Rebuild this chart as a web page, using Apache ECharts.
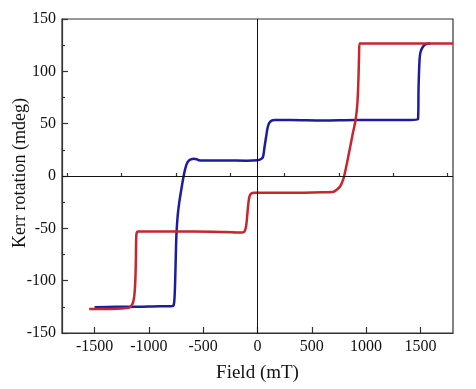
<!DOCTYPE html>
<html>
<head>
<meta charset="utf-8">
<script src="https://cdn.jsdelivr.net/npm/echarts@6/dist/echarts.min.js"></script>
<style>html,body{margin:0;padding:0;background:#fff;}#c{width:476px;height:389px;}</style>
</head>
<body>
<div id="c"></div>
<script>
// Blue sweep
var blueX = [-1500, -1300, -1100, -900, -800, -775, -765, -758, -752, -746, -735, -720, -700, -680, -665, -650, -630, -610, -590, -560, -540, -500, -300, -100, 0, 30, 50, 65, 80, 95, 110, 130, 160, 300, 600, 900, 1200, 1400, 1477, 1483, 1492, 1500, 1520, 1550, 1590];
var blueY = [-125.5, -125, -125, -124.5, -124.5, -124, -118, -100, -75, -55, -38, -25, -12, 0, 7, 12, 15, 16, 16.5, 16, 15, 14.8, 14.8, 14.6, 15, 16, 18, 28, 38, 47, 51, 53, 53.5, 53.5, 53, 53.5, 53.5, 53.5, 54, 85, 111, 118, 123, 126, 126.7];
// Red sweep
var redX = [-1550, -1400, -1250, -1190, -1170, -1150, -1135, -1125, -1120, -1117, -1112, -1100, -900, -600, -300, -150, -120, -105, -95, -85, -75, -60, -30, 0, 300, 600, 700, 730, 760, 790, 817, 850, 878, 903, 920, 930, 935, 940, 1000, 1400, 1800];
var redY = [-127, -127, -126.5, -126, -125, -122, -115, -100, -80, -60, -54, -53, -53, -53, -53.5, -54, -53, -48, -38, -27, -20, -17, -16, -16, -16, -15.5, -15, -13, -10, -3, 9, 26, 41, 53.5, 70, 95, 115, 126.5, 126.5, 126.5, 126.5];
// Axis ticks
var xMajor = [-1500, -1000, -500, 0, 500, 1000, 1500];
var xMinor = [-1750, -1250, -750, -250, 250, 750, 1250, 1750];
var yTicks = [-150, -100, -50, 0, 50, 100, 150];
var yTitle = 'Kerr rotation (mdeg)';
var xTitle = 'Field (mT)';

function pairs(xs, ys) { return xs.map(function (x, i) { return [x, ys[i]]; }); }

var font = "'Liberation Serif','Times New Roman',serif";
var chart = echarts.init(document.getElementById('c'));
chart.setOption({
  animation: false,
  backgroundColor: '#fff',
  grid: { left: 62, right: 23, top: 19, bottom: 56, containLabel: false, outerBoundsMode: 'none', show: true, borderColor: '#333', borderWidth: 1.2, backgroundColor: 'transparent' },
  graphic: [{
    type: 'text', left: 11, top: 98, rotation: Math.PI / 2,
    style: { text: yTitle, font: '18px ' + font, fill: '#111' }
  }],
  xAxis: [{
    type: 'value', min: -1800, max: 1800,
    name: xTitle, nameLocation: 'middle', nameGap: 31,
    nameTextStyle: { fontFamily: font, fontSize: 19, color: '#111' },
    axisLine: { show: true, onZero: false, lineStyle: { color: '#333', width: 1.2 } },
    axisTick: { show: true, inside: true, length: 6, customValues: xMajor, lineStyle: { color: '#333', width: 1.2 } },
    axisLabel: { customValues: xMajor, formatter: function (v) { return String(v); }, fontFamily: font, fontSize: 16, color: '#111', margin: 6 },
    splitLine: { show: false }
  }, {
    type: 'value', min: -1800, max: 1800, position: 'bottom', gridIndex: 0,
    axisLine: { show: false },
    axisTick: { show: true, inside: true, length: 3, customValues: xMinor, lineStyle: { color: '#333', width: 1.2 } },
    axisLabel: { show: false },
    splitLine: { show: false }
  }],
  yAxis: {
    type: 'value', min: -150, max: 150, interval: 50,
    axisLine: { show: true, onZero: false, lineStyle: { color: '#333', width: 1.2 } },
    axisTick: { show: true, inside: true, length: 6, lineStyle: { color: '#333', width: 1.2 } },
    minorTick: { show: true, splitNumber: 2, length: 3, lineStyle: { color: '#333', width: 1.2 } },
    axisLabel: { formatter: function (v) { return String(v); }, fontFamily: font, fontSize: 16, color: '#111', margin: 6 },
    splitLine: { show: false }
  },
  series: [{
    type: 'line', data: pairs(blueX, blueY), showSymbol: false, smooth: 0.3,
    lineStyle: { color: '#1c1ca3', width: 2.5 }, z: 3
  }, {
    type: 'line', data: pairs(redX, redY), showSymbol: false, smooth: 0.3,
    lineStyle: { color: '#c8252d', width: 2.5 }, z: 4,
    markLine: {
      silent: true, symbol: 'none', label: { show: false },
      lineStyle: { color: '#111', width: 1, type: 'solid' },
      data: [{ xAxis: 0 }, { yAxis: 0 }]
    }
  }]
});
</script>
</body>
</html>
